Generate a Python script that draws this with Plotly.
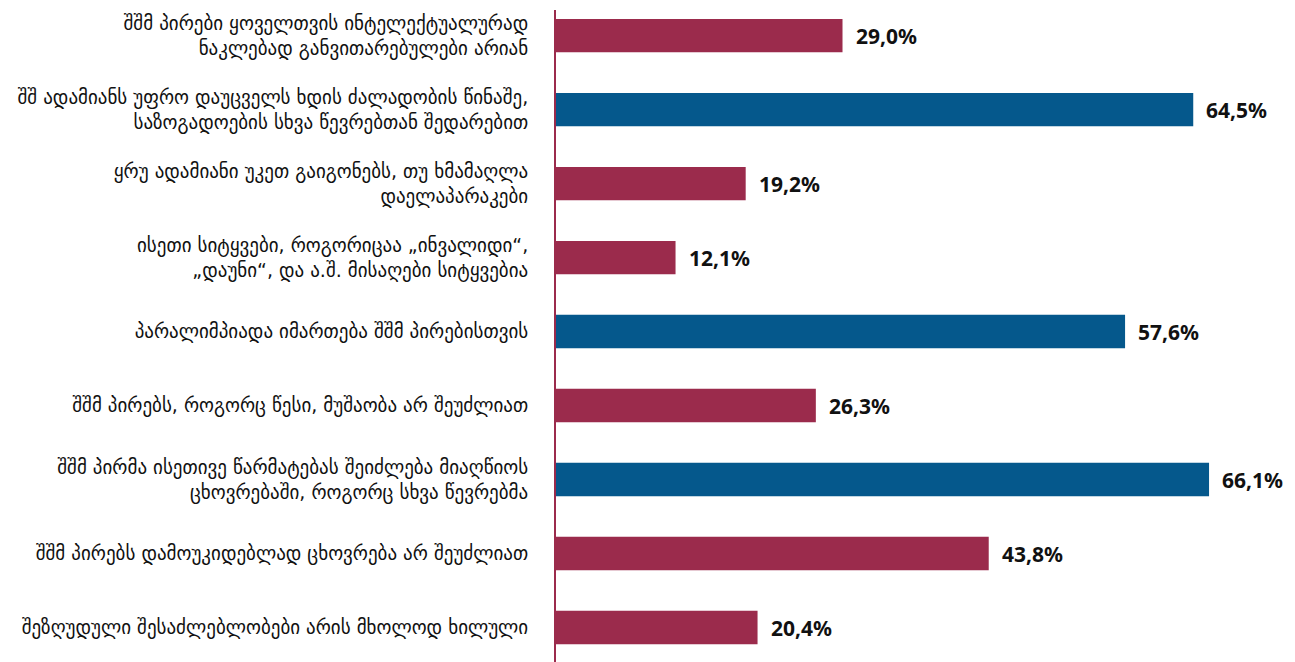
import plotly.graph_objects as go

categories = [
    "შშმ პირები ყოველთვის ინტელექტუალურად<br>ნაკლებად განვითარებულები არიან",
    "შშ ადამიანს უფრო დაუცველს ხდის ძალადობის წინაშე,<br>საზოგადოების სხვა წევრებთან შედარებით",
    "ყრუ ადამიანი უკეთ გაიგონებს, თუ ხმამაღლა<br>დაელაპარაკები",
    "ისეთი სიტყვები, როგორიცაა „ინვალიდი“,<br>„დაუნი“, და ა.შ. მისაღები სიტყვებია",
    "პარალიმპიადა იმართება შშმ პირებისთვის",
    "შშმ პირებს, როგორც წესი, მუშაობა არ შეუძლიათ",
    "შშმ პირმა ისეთივე წარმატებას შეიძლება მიაღწიოს<br>ცხოვრებაში, როგორც სხვა წევრებმა",
    "შშმ პირებს დამოუკიდებლად ცხოვრება არ შეუძლიათ",
    "შეზღუდული შესაძლებლობები არის მხოლოდ ხილული",
]
values = [29.0, 64.5, 19.2, 12.1, 57.6, 26.3, 66.1, 43.8, 20.4]
groups = ["myth", "fact", "myth", "myth", "fact", "myth", "fact", "myth", "myth"]

palette = {"myth": "#9B2B4C", "fact": "#05588C"}
labels = [f"{v:.1f}".replace(".", ",") + "%" for v in values]

fig = go.Figure()
fig.add_trace(go.Bar(
    x=values,
    y=list(range(len(categories))),
    orientation="h",
    width=0.45,
    marker=dict(color=[palette[g] for g in groups], line=dict(width=0)),
    hoverinfo="skip",
))

for i, (v, t) in enumerate(zip(values, labels)):
    fig.add_annotation(
        x=v, y=i, text=t, showarrow=False, xanchor="left", yanchor="middle",
        xshift=11, font=dict(family="Noto Sans", size=21, color="#111111", weight="bold"),
    )

# page body has an 8px default margin, so the figure is sized/offset to fill the window
fig.update_layout(
    width=1287, height=654,
    margin=dict(l=548, r=0, t=2, b=0),
    paper_bgcolor="white", plot_bgcolor="white",
    showlegend=False,
    xaxis=dict(range=[0, 74.8], visible=False, fixedrange=True, automargin=False),
    yaxis=dict(
        range=[8.466, -0.345],
        tickmode="array",
        tickvals=list(range(len(categories))),
        ticktext=categories,
        showline=True, linecolor="#9B2B4C", linewidth=2,
        showgrid=False, zeroline=False, ticks="",
        ticklabelstandoff=22,
        automargin=False,
        tickfont=dict(family="DejaVu Sans", size=19, color="#111111"),
        fixedrange=True,
    ),
)

fig.write_html("out.html")
